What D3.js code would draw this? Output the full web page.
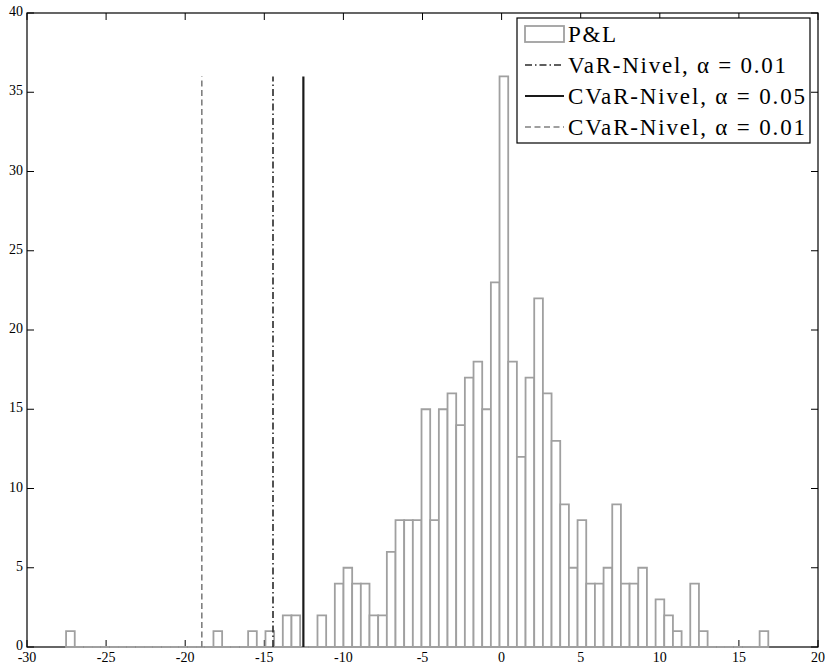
<!DOCTYPE html>
<html>
<head>
<meta charset="utf-8">
<script src="https://cdn.jsdelivr.net/npm/d3@7"></script>
<style>
  body { margin: 0; background: #fff; }
  svg { display: block; font-family: "Liberation Serif", "DejaVu Serif", serif; }
  .tick-label { font-size: 14px; fill: #000; }
  .legend-text { font-size: 23px; fill: #000; }
</style>
</head>
<body>
<div id="chart"></div>
<script>
// histogram counts (81 bins)
var counts = [1,0,0,0,0,0,0,0,0,0, 0,0,0,0,0,0,0,1,0,0, 0,1,0,1,0,2,2,0,0,2,
              0,4,5,4,4,2,2,6,8,8, 8,15,8,15,16,14,17,18,15,23, 36,18,12,17,22,16,13,9,5,8,
              4,4,5,9,4,4,5,0,3,2, 1,0,4,1,0,0,0,0,0,0, 1];
var binStart = -27.53;
var binWidth = 0.548;

var xTicks = [-30, -25, -20, -15, -10, -5, 0, 5, 10, 15, 20];
var yTicks = [0, 5, 10, 15, 20, 25, 30, 35, 40];

// vertical risk levels
var levelNames = ["VaR-Nivel, \u03b1 = 0.01", "CVaR-Nivel, \u03b1 = 0.05", "CVaR-Nivel, \u03b1 = 0.01"];
var levelValues = [-14.45, -12.53, -18.95];
var levelTop = 36;

var W = 825, H = 665;
var LEFT = 27, RIGHT = 818, TOP = 13, BOTTOM = 647;
var TICK = 7;
var BAR_COLOR = "#a0a0a0";
var LEVEL_STYLE = [
  {stroke: "#2a2a2a", width: 1.6, dash: "7,3,1.5,3"},
  {stroke: "#1a1a1a", width: 2.2, dash: null},
  {stroke: "#808080", width: 1.6, dash: "6,3.5"}
];

var svg = d3.select('#chart').append('svg').attr('width', W).attr('height', H);

var x = d3.scaleLinear().domain([-30, 20]).range([LEFT, RIGHT]);
var y = d3.scaleLinear().domain([0, 40]).range([BOTTOM, TOP]);

// axes box
svg.append('rect')
  .attr('x', LEFT).attr('y', TOP)
  .attr('width', RIGHT - LEFT).attr('height', BOTTOM - TOP)
  .attr('fill', 'none').attr('stroke', '#000').attr('stroke-width', 1.2);

// inward ticks on all sides
var tg = svg.append('g').attr('stroke', '#000').attr('stroke-width', 1);
xTicks.forEach(function(t){
  tg.append('line').attr('x1', x(t)).attr('x2', x(t)).attr('y1', BOTTOM).attr('y2', BOTTOM - TICK);
  tg.append('line').attr('x1', x(t)).attr('x2', x(t)).attr('y1', TOP).attr('y2', TOP + TICK);
});
yTicks.forEach(function(t){
  tg.append('line').attr('x1', LEFT).attr('x2', LEFT + TICK).attr('y1', y(t)).attr('y2', y(t));
  tg.append('line').attr('x1', RIGHT).attr('x2', RIGHT - TICK).attr('y1', y(t)).attr('y2', y(t));
});

svg.append('g').selectAll('text').data(xTicks).enter().append('text')
  .attr('class', 'tick-label')
  .attr('x', function(d){ return x(d); })
  .attr('y', BOTTOM + 15)
  .attr('text-anchor', 'middle')
  .text(function(d){ return d < 0 ? '-' + Math.abs(d) : d; });

svg.append('g').selectAll('text').data(yTicks).enter().append('text')
  .attr('class', 'tick-label')
  .attr('x', LEFT - 4)
  .attr('y', function(d){ return y(d) + 3; })
  .attr('text-anchor', 'end')
  .text(function(d){ return d; });

// bars (drawn as paths so empty bins still show on the baseline)
svg.append('g').selectAll('path').data(counts).enter().append('path')
  .attr('d', function(c, i){
    var x0 = x(binStart + i*binWidth), x1 = x(binStart + (i+1)*binWidth);
    return 'M' + x0 + ',' + y(0) + 'V' + y(c) + 'H' + x1 + 'V' + y(0) + 'Z';
  })
  .attr('fill', '#fff')
  .attr('stroke', BAR_COLOR)
  .attr('stroke-width', 1.8)
  .attr('stroke-linejoin', 'miter');

// risk level lines
svg.append('g').selectAll('line').data(levelValues).enter().append('line')
  .attr('x1', function(d){ return x(d); }).attr('x2', function(d){ return x(d); })
  .attr('y1', y(0)).attr('y2', y(levelTop))
  .attr('stroke', function(d, i){ return LEVEL_STYLE[i].stroke; })
  .attr('stroke-width', function(d, i){ return LEVEL_STYLE[i].width; })
  .attr('stroke-dasharray', function(d, i){ return LEVEL_STYLE[i].dash; });

// legend
var lg = svg.append('g').attr('class', 'legend');
lg.append('rect').attr('x', 517).attr('y', 18).attr('width', 293).attr('height', 125)
  .attr('fill', '#fff').attr('stroke', '#000').attr('stroke-width', 1.2);
var ROW0 = 34, ROWSTEP = 31, LX0 = 525, LX1 = 564, TX = 568;
var TEXT_W = [48, 218, 237, 237];

lg.append('rect').attr('x', LX0).attr('y', ROW0 - 8).attr('width', LX1 - LX0).attr('height', 16)
  .attr('fill', '#fff').attr('stroke', BAR_COLOR).attr('stroke-width', 1.8);

var names = ["P&L"].concat(levelNames);
lg.selectAll('.legend-text').data(names).enter().append('text')
  .attr('class', 'legend-text')
  .attr('x', TX)
  .attr('y', function(d, i){ return ROW0 + i*ROWSTEP + 8; })
  .attr('textLength', function(d, i){ return TEXT_W[i]; })
  .attr('lengthAdjust', 'spacing')
  .text(function(d){ return d; });

levelNames.forEach(function(n, i){
  lg.append('line')
    .attr('x1', LX0).attr('x2', LX1)
    .attr('y1', ROW0 + (i+1)*ROWSTEP).attr('y2', ROW0 + (i+1)*ROWSTEP)
    .attr('stroke', LEVEL_STYLE[i].stroke)
    .attr('stroke-width', LEVEL_STYLE[i].width)
    .attr('stroke-dasharray', LEVEL_STYLE[i].dash);
});
</script>
</body>
</html>
